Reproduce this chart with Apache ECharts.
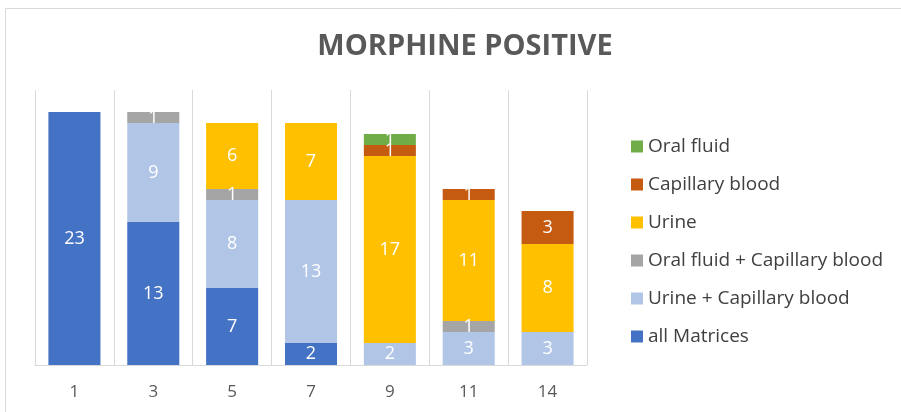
<!DOCTYPE html>
<html>
<head>
<meta charset="utf-8">
<script src="https://cdn.jsdelivr.net/npm/echarts@6/dist/echarts.min.js"></script>
<style>
  html, body { margin: 0; padding: 0; background: #fff; }
  #chart { width: 901px; height: 412px; }
</style>
</head>
<body>
<div id="chart"></div>
<script>
// categories on the x axis
const days = ['1', '3', '5', '7', '9', '11', '14']

// stacked from the bottom up
const allMatrices = [23, 13, 7, 2, null, null, null]
const urineCapillary = [null, 9, 8, 13, 2, 3, 3]
const oralCapillary = [null, 1, 1, null, null, 1, null]
const urine = [null, null, 6, 7, 17, 11, 8]
const capillaryBlood = [null, null, null, null, 1, 1, 3]
const oralFluid = [null, null, null, null, 1, null, null]

const font = 'Open Sans'

function stackSeries(name, data, color) {
  return {
    name: name,
    type: 'bar',
    stack: 'total',
    data: data,
    barWidth: '66%',
    itemStyle: { color: color },
    label: {
      show: true,
      position: 'inside',
      color: '#fff',
      fontSize: 18,
      fontFamily: font
    }
  }
}

const myChart = echarts.init(document.getElementById('chart'))
myChart.setOption({
  animation: false,
  title: {
    text: 'MORPHINE POSITIVE',
    left: 460,
    top: 27,
    textAlign: 'center',
    textStyle: {
      color: '#595959',
      fontSize: 29,
      fontWeight: 'bold',
      fontFamily: font
    }
  },
  graphic: [
    {
      type: 'rect',
      shape: { x: 5.5, y: 8.5, width: 910, height: 420 },
      style: { fill: 'none', stroke: '#d9d9d9', lineWidth: 1 },
      silent: true
    }
  ],
  legend: {
    orient: 'vertical',
    left: 626,
    top: 132,
    itemWidth: 12,
    itemHeight: 12,
    itemGap: 19,
    icon: 'rect',
    data: ['Oral fluid', 'Capillary blood', 'Urine', 'Oral fluid + Capillary blood', 'Urine + Capillary blood', 'all Matrices'],
    textStyle: { color: '#404040', fontSize: 19, fontFamily: font }
  },
  grid: {
    left: 35,
    right: 314,
    top: 90,
    bottom: 47
  },
  xAxis: {
    type: 'category',
    data: days,
    axisLine: { lineStyle: { color: '#d9d9d9' } },
    axisTick: { show: false },
    splitLine: { show: true, lineStyle: { color: '#d9d9d9' } },
    axisLabel: { color: '#595959', fontSize: 17, fontFamily: font, margin: 19 }
  },
  yAxis: {
    type: 'value',
    min: 0,
    max: 25,
    show: false,
    splitLine: { show: false }
  },
  series: [
    stackSeries('all Matrices', allMatrices, '#4472c4'),
    stackSeries('Urine + Capillary blood', urineCapillary, '#b1c5e7'),
    stackSeries('Oral fluid + Capillary blood', oralCapillary, '#a5a5a5'),
    stackSeries('Urine', urine, '#ffc000'),
    stackSeries('Capillary blood', capillaryBlood, '#c55a11'),
    stackSeries('Oral fluid', oralFluid, '#70ad47')
  ]
})
</script>
</body>
</html>
